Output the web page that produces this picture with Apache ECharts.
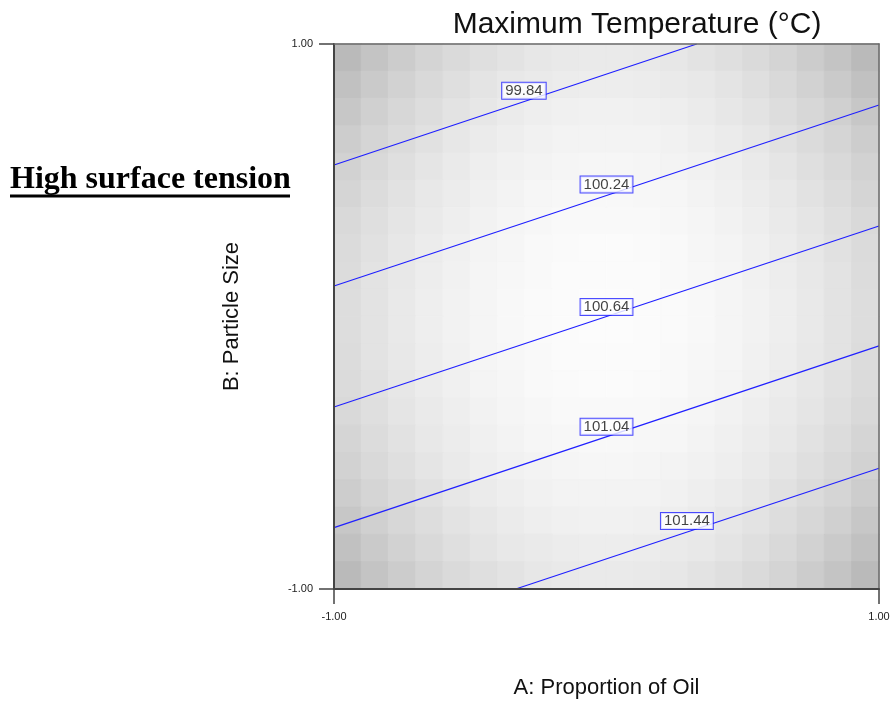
<!DOCTYPE html>
<html>
<head>
<meta charset="utf-8">
<title>Maximum Temperature</title>
<script src="https://cdn.jsdelivr.net/npm/echarts@6/dist/echarts.min.js"></script>
<style>
  html, body { margin: 0; padding: 0; background: #ffffff; }
  #chart { width: 893px; height: 706px; }
</style>
</head>
<body>
<div id="chart"></div>
<script>
// Background cells: 20 x 20 grey levels (0-255), top row first, left column first.
const cellIndex = ['0','1','2','3','4','5','6','7','8','9','10','11','12','13','14','15','16','17','18','19'];
const shadeRows = [
  [186,196,204,212,218,223,227,231,233,234,234,233,231,227,223,218,212,204,196,186],
  [193,202,210,217,223,228,232,234,236,237,237,236,234,232,228,223,217,210,202,193],
  [199,208,215,221,227,231,235,238,240,241,241,240,238,235,231,227,221,215,208,199],
  [205,213,219,225,231,235,238,241,243,243,243,243,241,238,235,231,225,219,213,205],
  [210,217,223,229,234,238,241,243,245,246,246,245,243,241,238,234,229,223,217,210],
  [213,220,226,232,236,240,243,246,247,248,248,247,246,243,240,236,232,226,220,213],
  [217,223,229,234,238,242,245,247,249,249,249,249,247,245,242,238,234,229,223,217],
  [219,225,231,236,240,244,246,249,250,251,251,250,249,246,244,240,236,231,225,219],
  [220,227,232,237,241,245,247,249,251,251,251,251,249,247,245,241,237,232,227,220],
  [221,227,233,238,242,245,248,250,251,252,252,251,250,248,245,242,238,233,227,221],
  [221,227,233,238,242,245,248,250,251,252,252,251,250,248,245,242,238,233,227,221],
  [220,227,232,237,241,245,247,249,251,251,251,251,249,247,245,241,237,232,227,220],
  [219,225,231,236,240,244,246,249,250,251,251,250,249,246,244,240,236,231,225,219],
  [217,223,229,234,238,242,245,247,249,249,249,249,247,245,242,238,234,229,223,217],
  [213,220,226,232,236,240,243,246,247,248,248,247,246,243,240,236,232,226,220,213],
  [210,217,223,229,234,238,241,243,245,246,246,245,243,241,238,234,229,223,217,210],
  [205,213,219,225,231,235,238,241,243,243,243,243,241,238,235,231,225,219,213,205],
  [199,208,215,221,227,231,235,238,240,241,241,240,238,235,231,227,221,215,208,199],
  [193,202,210,217,223,228,232,234,236,237,237,236,234,232,228,223,217,210,202,193],
  [186,196,204,212,218,223,227,231,233,234,234,233,231,227,223,218,212,204,196,186]
];

// Contour levels with the points where each straight contour meets the frame (A, B coded units).
const contourLevels = [99.84, 100.24, 100.64, 101.04, 101.44];
const contourStart = [[-1, 0.556], [-1, 0.112], [-1, -0.332], [-1, -0.775], [-0.333, -1]];
const contourEnd   = [[0.331, 1], [1, 0.776], [1, 0.332], [1, -0.108], [1, -0.557]];
// Where each contour value tag sits.
const labelAnchor  = [[-0.303, 0.828], [0.0, 0.484], [0.0, 0.035], [0.0, -0.405], [0.295, -0.750]];

const xTickValues = [-1, 1];
const yTickValues = [-1, 1];

const FONT = "'Liberation Sans', Arial, Helvetica, sans-serif";
const LINE_BLUE = '#1f1fff';

function grey(v) { return 'rgb(' + v + ',' + v + ',' + v + ')'; }

// Each cell also gets a hairline border in its own grey so neighbouring cells meet without seams.
const heatData = [];
shadeRows.forEach(function (row, j) {
  row.forEach(function (v, i) {
    heatData.push({ value: [i, j, v], itemStyle: { borderColor: grey(v), borderWidth: 0.6 } });
  });
});

const contourSeries = contourLevels.map(function (level, k) {
  return {
    type: 'line',
    name: String(level),
    xAxisIndex: 1,
    yAxisIndex: 1,
    data: [contourStart[k], contourEnd[k]],
    symbol: 'none',
    silent: true,
    z: 3,
    lineStyle: { color: LINE_BLUE, width: 1.2 }
  };
});

const chart = echarts.init(document.getElementById('chart'), null, { renderer: 'canvas' });

chart.setOption({
  animation: false,
  backgroundColor: '#ffffff',
  textStyle: { fontFamily: FONT },
  grid: { left: 334, top: 44, width: 545, height: 545, containLabel: false },
  visualMap: {
    show: false,
    type: 'continuous',
    seriesIndex: 0,
    dimension: 2,
    min: 0,
    max: 255,
    inRange: { color: ['#000000', '#ffffff'] }
  },
  xAxis: [
    {
      type: 'category',
      data: cellIndex,
      position: 'top',
      z: 10,
      axisLine: { show: true, onZero: false, lineStyle: { color: '#6a6a6a', width: 1.5 } },
      axisTick: { show: false },
      axisLabel: { show: false },
      splitLine: { show: false }
    },
    {
      type: 'value',
      min: -1,
      max: 1,
      position: 'bottom',
      z: 10,
      axisLine: { show: true, onZero: false, lineStyle: { color: '#444444', width: 2 } },
      axisTick: { show: true, length: 15, customValues: xTickValues, lineStyle: { color: '#444444', width: 1.5 } },
      axisLabel: {
        customValues: xTickValues,
        formatter: function (v) { return v.toFixed(2); },
        margin: 22, fontSize: 11, color: '#222222', fontFamily: FONT
      },
      splitLine: { show: false },
      name: 'A: Proportion of Oil',
      nameLocation: 'middle',
      nameGap: 88,
      nameTextStyle: { fontSize: 22, color: '#111111', fontFamily: FONT }
    }
  ],
  yAxis: [
    {
      type: 'category',
      data: cellIndex,
      inverse: true,
      position: 'right',
      z: 10,
      axisLine: { show: true, onZero: false, lineStyle: { color: '#6a6a6a', width: 1.5 } },
      axisTick: { show: false },
      axisLabel: { show: false },
      splitLine: { show: false }
    },
    {
      type: 'value',
      min: -1,
      max: 1,
      position: 'left',
      z: 10,
      axisLine: { show: true, onZero: false, lineStyle: { color: '#444444', width: 2 } },
      axisTick: { show: true, length: 15, customValues: yTickValues, lineStyle: { color: '#444444', width: 1.5 } },
      axisLabel: {
        customValues: yTickValues,
        formatter: function (v) { return v.toFixed(2); },
        margin: 21, fontSize: 11, color: '#222222', fontFamily: FONT
      },
      splitLine: { show: false },
      name: 'B: Particle Size',
      nameLocation: 'middle',
      nameRotate: 90,
      nameGap: 91,
      nameTextStyle: { fontSize: 22, color: '#111111', fontFamily: FONT }
    }
  ],
  graphic: [
    {
      type: 'text',
      x: 637, y: 25,
      style: {
        text: 'Maximum Temperature (°C)',
        font: "30px 'Liberation Sans', Arial, sans-serif",
        fill: '#111111',
        textAlign: 'center',
        textVerticalAlign: 'middle'
      },
      z: 10
    },
    {
      type: 'text',
      x: 10, y: 180,
      style: {
        text: 'High surface tension',
        font: "bold 32px 'Liberation Serif', 'Times New Roman', serif",
        fill: '#000000',
        textAlign: 'left',
        textVerticalAlign: 'middle'
      },
      z: 10
    },
    {
      type: 'rect',
      shape: { x: 10, y: 194.5, width: 280, height: 3 },
      style: { fill: '#000000' },
      z: 10
    }
  ],
  series: [
    {
      type: 'heatmap',
      xAxisIndex: 0,
      yAxisIndex: 0,
      data: heatData,
      silent: true,
      emphasis: { disabled: true },
      z: 1
    }
  ].concat(contourSeries).concat([
    {
      type: 'scatter',
      xAxisIndex: 1,
      yAxisIndex: 1,
      data: labelAnchor,
      symbolSize: 1,
      silent: true,
      z: 5,
      itemStyle: { color: 'rgba(0,0,0,0)' },
      label: {
        show: true,
        position: 'inside',
        formatter: function (p) { return contourLevels[p.dataIndex].toFixed(2); },
        fontSize: 15,
        lineHeight: 16,
        fontFamily: FONT,
        color: '#111111',
        backgroundColor: '#ffffff',
        borderColor: LINE_BLUE,
        borderWidth: 1,
        padding: [0, 3, 0, 3]
      }
    }
  ])
});
</script>
</body>
</html>
